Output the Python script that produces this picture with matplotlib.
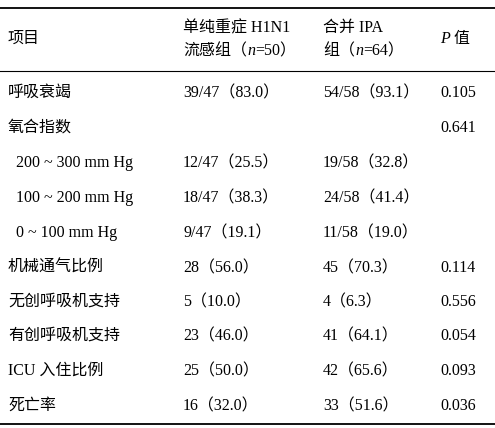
import matplotlib
matplotlib.use("Agg")
import matplotlib.pyplot as plt

plt.rcParams['font.family'] = ['Liberation Serif', 'Noto Sans CJK SC']

items = ["呼吸衰竭", "氧合指数", "  200 ~ 300 mm Hg", "  100 ~ 200 mm Hg", "  0 ~ 100 mm Hg",
         "机械通气比例", "无创呼吸机支持", "有创呼吸机支持", "ICU 入住比例", "死亡率"]
group1 = ["39/47（83.0）", "", "12/47（25.5）", "18/47（38.3）", "9/47（19.1）",
          "28（56.0）", "5（10.0）", "23（46.0）", "25（50.0）", "16（32.0）"]
group2 = ["54/58（93.1）", "", "19/58（32.8）", "24/58（41.4）", "11/58（19.0）",
          "45（70.3）", "4（6.3）", "41（64.1）", "42（65.6）", "33（51.6）"]
pvals = ["0.105", "0.641", "", "", "", "0.114", "0.556", "0.054", "0.093", "0.036"]

W, H = 495, 428
fig = plt.figure(figsize=(W/100, H/100), dpi=100)
ax = fig.add_axes([0, 0, 1, 1])
ax.set_xlim(0, W); ax.set_ylim(H, 0); ax.axis('off')
renderer = fig.canvas.get_renderer()

fs = 11.5
cols = [8, 183, 323, 440]
ax.plot([0, W], [8, 8], color='black', lw=1.3)
ax.plot([0, W], [71, 71], color='black', lw=0.8)
ax.plot([0, W], [424, 424], color='black', lw=1.3)

def runs(x, y, parts):
    for s, it in parts:
        t = ax.text(x, y, s, fontsize=fs, va='center', style='italic' if it else 'normal')
        bb = t.get_window_extent(renderer)
        x += bb.width

ax.text(cols[0], 39, "项目", fontsize=fs, va='center')
ax.text(cols[1], 28, "单纯重症 H1N1", fontsize=fs, va='center')
runs(cols[1], 51, [("流感组（", False), ("n", True), ("=50）", False)])
ax.text(cols[2], 28, "合并 IPA", fontsize=fs, va='center')
runs(cols[2], 51, [("组（", False), ("n", True), ("=64）", False)])
runs(cols[3], 39, [("P", True), (" 值", False)])

ys = [93, 128, 163, 198, 233, 268, 302, 336, 371, 406]
for y, a, b, c, d in zip(ys, items, group1, group2, pvals):
    ax.text(cols[0], y, a, fontsize=fs, va='center')
    ax.text(cols[1], y, b, fontsize=fs, va='center')
    ax.text(cols[2], y, c, fontsize=fs, va='center')
    ax.text(cols[3], y, d, fontsize=fs, va='center')

fig.savefig("out.png", dpi=100)
